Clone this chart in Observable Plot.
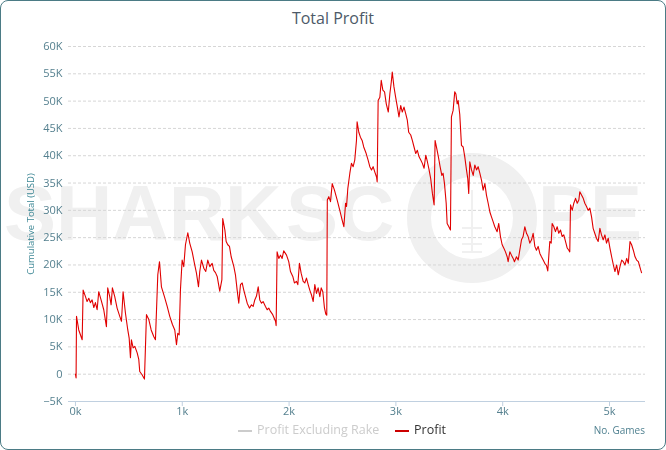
<!DOCTYPE html>
<html>
<head>
<meta charset="utf-8">
<script src="https://cdn.jsdelivr.net/npm/d3@7"></script>
<script src="https://cdn.jsdelivr.net/npm/@observablehq/plot@0.6"></script>
<style>
  html, body { margin: 0; padding: 0; background: #fff; }
  #wrap { position: relative; width: 666px; height: 450px; overflow: hidden; font-family: "Open Sans", "DejaVu Sans", sans-serif; background: #fff; }
  #frame { position: absolute; left: 0; top: 0; width: 666px; height: 450px; box-sizing: border-box; border: 1.5px solid #4b7b85; border-radius: 8px; pointer-events: none; z-index: 5; }
  #title { position: absolute; left: 0; top: 0; width: 666px; height: 36px; line-height: 36px; text-align: center; font-size: 16px; color: #4d5a68; }
  #chart { position: absolute; left: 0; top: 36px; z-index: 2; }
  #watermark { position: absolute; left: 0; top: 0; z-index: 1; }
  #legend { position: absolute; top: 421px; left: 0; width: 666px; height: 18px; font-size: 12.5px; z-index: 3; }
  .lg-line { position: absolute; top: 9px; height: 1.5px; width: 14px; }
  .lg-text { position: absolute; top: 0; line-height: 18px; }
  #xname { position: absolute; top: 423px; right: 21px; font-size: 10px; color: #4f8090; line-height: 14px; z-index: 3; }
</style>
</head>
<body>
<div id="wrap">
  <canvas id="watermark" width="666" height="450"></canvas>
  <div id="title">Total Profit</div>
  <div id="chart"></div>
  <div id="legend">
    <div class="lg-line" style="left:238px; background:#cccccc;"></div>
    <div class="lg-text" style="left:257px; color:#cccccc;">Profit Excluding Rake</div>
    <div class="lg-line" style="left:395px; background:#cc0000;"></div>
    <div class="lg-text" style="left:414px; color:#333333;">Profit</div>
  </div>
  <div id="xname">No. Games</div>
  <div id="frame"></div>
</div>
<script>
// Number of games played (x) and cumulative profit in thousands of USD (y)
const games = [
  0, 6, 10, 31, 63, 72, 94, 109, 125, 140, 156, 172, 187, 203, 218, 240, 265, 290, 302, 321,
  334, 346, 368, 390, 415, 431, 446, 468, 490, 503, 515, 524, 540, 556, 578, 593, 602, 624, 646, 665,
  687, 709, 733, 749, 771, 787, 805, 833, 859, 883, 908, 930, 946, 958, 971, 983, 999, 1014, 1030, 1052,
  1070, 1093, 1114, 1133, 1152, 1164, 1180, 1202, 1220, 1239, 1258, 1280, 1295, 1311, 1327, 1351, 1371, 1379, 1399, 1411,
  1426, 1442, 1458, 1483, 1498, 1514, 1529, 1545, 1561, 1576, 1592, 1608, 1629, 1648, 1664, 1679, 1695, 1711, 1726, 1742,
  1757, 1779, 1795, 1810, 1826, 1847, 1873, 1879, 1888, 1904, 1920, 1935, 1950, 1976, 1997, 2013, 2035, 2050, 2069, 2082,
  2097, 2113, 2132, 2147, 2163, 2179, 2194, 2210, 2226, 2241, 2257, 2272, 2288, 2301, 2316, 2331, 2344, 2353, 2358, 2372,
  2388, 2404, 2425, 2450, 2475, 2497, 2513, 2529, 2538, 2550, 2569, 2584, 2600, 2615, 2631, 2637, 2653, 2668, 2684, 2699,
  2722, 2740, 2756, 2772, 2787, 2803, 2819, 2825, 2834, 2850, 2863, 2878, 2894, 2910, 2929, 2944, 2957, 2966, 2982, 2998,
  3014, 3029, 3045, 3060, 3076, 3092, 3107, 3120, 3139, 3154, 3170, 3186, 3201, 3217, 3233, 3248, 3264, 3280, 3295, 3311,
  3326, 3342, 3358, 3367, 3383, 3398, 3414, 3430, 3442, 3455, 3471, 3480, 3496, 3511, 3520, 3536, 3551, 3562, 3574, 3583,
  3598, 3614, 3630, 3645, 3661, 3673, 3682, 3692, 3708, 3724, 3739, 3755, 3770, 3786, 3802, 3817, 3833, 3848, 3864, 3880,
  3895, 3911, 3926, 3948, 3963, 3979, 3995, 4010, 4026, 4042, 4051, 4067, 4082, 4098, 4110, 4129, 4145, 4160, 4176, 4191,
  4207, 4223, 4238, 4254, 4270, 4285, 4301, 4316, 4332, 4348, 4363, 4379, 4394, 4410, 4422, 4441, 4454, 4463, 4479, 4494,
  4510, 4525, 4541, 4557, 4572, 4588, 4604, 4619, 4628, 4635, 4651, 4666, 4682, 4698, 4713, 4722, 4738, 4754, 4769, 4785,
  4800, 4816, 4832, 4847, 4862, 4878, 4894, 4910, 4925, 4941, 4957, 4972, 4988, 5004, 5020, 5036, 5051, 5067, 5082, 5098,
  5114, 5129, 5145, 5161, 5176, 5192, 5207, 5223, 5239, 5254, 5270, 5292, 5300
];
const profitK = [
  0, -0.7, 10.6, 8.1, 6.3, 15.4, 14.2, 13.3, 13.9, 13.1, 13.6, 12.2, 13.1, 11.8, 15.1, 13.6, 11.8, 8.7, 15.8, 14.2,
  12.7, 15.8, 14.2, 12.1, 10.6, 9.7, 15.1, 11.2, 8.1, 6.6, 3.0, 6.3, 4.8, 5.1, 3.9, 2.7, 0.5, -0.1, -0.9, 10.9,
  10.0, 8.1, 6.9, 6.3, 18.2, 20.6, 16.0, 14.2, 12.4, 10.6, 9.1, 8.1, 5.4, 7.5, 7.2, 15.4, 20.9, 19.7, 23.7, 25.9,
  24.0, 22.4, 20.3, 18.5, 16.0, 18.8, 20.9, 19.4, 18.8, 20.9, 19.7, 20.3, 19.0, 18.6, 17.9, 15.2, 17.3, 28.5, 26.4, 24.3,
  23.7, 23.4, 21.5, 19.7, 18.2, 15.4, 13.0, 16.4, 16.7, 15.4, 14.2, 13.0, 12.1, 12.7, 12.4, 13.6, 14.3, 16.0, 13.6, 13.0,
  13.3, 12.4, 11.8, 12.1, 11.5, 10.9, 9.7, 8.9, 22.4, 21.2, 21.8, 21.2, 22.6, 21.8, 20.6, 18.8, 17.9, 16.7, 17.0, 16.4,
  20.3, 18.5, 17.0, 16.7, 17.6, 16.4, 15.4, 14.5, 13.3, 16.4, 14.8, 15.8, 14.2, 15.8, 15.1, 12.2, 11.0, 10.8, 31.9, 32.5,
  31.6, 34.9, 33.7, 31.9, 30.0, 28.2, 27.0, 31.3, 30.7, 34.0, 36.8, 38.6, 38.0, 39.2, 42.8, 46.2, 44.3, 43.4, 42.8, 41.6,
  40.4, 39.2, 38.0, 37.4, 38.0, 37.0, 36.1, 35.2, 50.1, 50.7, 53.8, 52.0, 51.7, 49.5, 48.0, 51.4, 53.5, 55.3, 52.6, 50.7,
  48.9, 47.1, 49.2, 48.0, 48.9, 47.7, 46.5, 44.3, 43.8, 42.8, 41.6, 40.4, 41.0, 39.8, 39.2, 38.6, 37.7, 40.1, 38.9, 37.4,
  35.8, 33.1, 31.0, 42.8, 41.3, 39.8, 38.0, 36.4, 36.8, 34.9, 31.3, 27.6, 27.0, 26.4, 47.1, 48.3, 51.7, 51.3, 49.5, 50.1,
  47.6, 41.9, 41.6, 39.8, 37.4, 35.8, 33.1, 38.9, 37.4, 36.4, 38.3, 37.4, 38.0, 36.8, 35.5, 33.7, 34.9, 32.8, 31.3, 29.7,
  28.8, 27.9, 27.0, 26.1, 27.6, 25.2, 23.7, 23.1, 22.4, 21.5, 20.6, 22.4, 21.8, 21.2, 20.6, 21.5, 20.9, 22.7, 24.6, 25.2,
  27.0, 25.8, 25.2, 24.0, 24.6, 25.8, 23.4, 22.7, 23.4, 22.1, 21.5, 20.9, 20.3, 19.9, 18.9, 24.3, 24.0, 27.6, 27.0, 26.1,
  27.0, 25.8, 26.4, 25.2, 25.5, 24.3, 23.1, 22.7, 22.4, 31.0, 30.0, 31.3, 32.2, 31.3, 31.9, 33.4, 32.8, 32.2, 31.3, 30.7,
  30.0, 30.4, 28.8, 26.7, 25.8, 24.9, 24.3, 26.7, 25.5, 24.6, 25.5, 24.0, 24.9, 23.1, 21.5, 20.0, 18.8, 20.0, 18.2, 19.7,
  20.9, 20.6, 20.0, 21.2, 20.3, 24.3, 23.7, 22.7, 21.5, 20.9, 20.6, 19.1, 18.6
];
const xTicks = [0, 1000, 2000, 3000, 4000, 5000];
const xTickLabels = ["0k", "1k", "2k", "3k", "4k", "5k"];
const yTicks = [-5000, 0, 5000, 10000, 15000, 20000, 25000, 30000, 35000, 40000, 45000, 50000, 55000, 60000];
const yTickLabels = ["−5K", "0", "5K", "10K", "15K", "20K", "25K", "30K", "35K", "40K", "45K", "50K", "55K", "60K"];

// Background logo watermark (an image in the original), painted on a canvas
(function drawWatermark() {
  const ctx = document.getElementById("watermark").getContext("2d");
  const c = "#f0f0f0";
  ctx.fillStyle = c;
  ctx.font = "bold 78px 'Liberation Sans', Arial, sans-serif";
  ctx.textBaseline = "alphabetic";
  ctx.fillText("SHARK", 4, 240);
  ctx.fillText("SC", 286, 240);
  ctx.fillText("PE", 538, 240);
  ctx.strokeStyle = c;
  ctx.lineWidth = 24;
  ctx.beginPath();
  ctx.arc(472, 218, 53, 0, 2 * Math.PI);
  ctx.stroke();
  ctx.fillRect(471, 190, 2, 63);
  ctx.fillRect(462, 227, 20, 2);
  ctx.fillRect(462, 243, 20, 2);
  ctx.fillRect(462, 251, 20, 2);
})();

const data = games.map((g, i) => ({games: g, profit: profitK[i] * 1000}));

const chart = Plot.plot({
  width: 666,
  height: 384,
  marginTop: 10,
  marginBottom: 19,
  marginLeft: 68,
  marginRight: 21,
  style: {background: "transparent", fontFamily: "'Open Sans', 'DejaVu Sans', sans-serif", fontSize: "11px", overflow: "visible"},
  x: {domain: [-65, 5337]},
  y: {domain: [-5000, 60000]},
  marks: [
    Plot.gridY(yTicks.filter(d => d > -5000), {stroke: "#d6d6d6", strokeOpacity: 1, strokeDasharray: "3,2"}),
    Plot.ruleY([-5000], {stroke: "#c0d0e0", strokeWidth: 1}),
    Plot.axisY({
      ticks: yTicks, tickSize: 0, tickPadding: 6,
      tickFormat: d => yTickLabels[yTicks.indexOf(d)],
      fill: "#55808f", fontSize: 11, label: null
    }),
    Plot.axisY({
      ticks: [], label: "Cumulative Total (USD)", labelAnchor: "center", labelArrow: "none",
      labelOffset: 41, fill: "#3d8795", fontSize: 9.5
    }),
    Plot.axisX({
      ticks: xTicks, tickSize: 5, tickPadding: 1, stroke: "#c0d0e0",
      tickFormat: d => xTickLabels[xTicks.indexOf(d)],
      fill: "#55808f", fontSize: 11, label: null
    }),
    Plot.lineY(data, {x: "games", y: "profit", stroke: "#e00000", strokeWidth: 1.1})
  ]
});
document.getElementById("chart").appendChild(chart);
</script>
</body>
</html>
